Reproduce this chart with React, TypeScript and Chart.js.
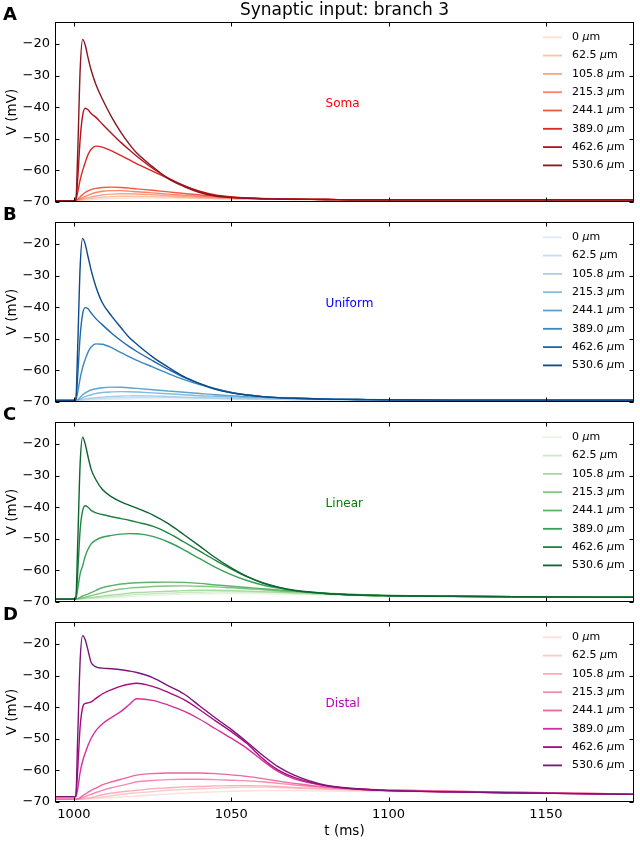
import React, { useEffect, useRef } from 'react';
import { Chart, registerables } from 'chart.js';

Chart.register(...registerables);

// ---------- data ----------
const T = [994, 1000.6, 1001.2, 1002, 1002.8, 1003.6, 1004.5, 1005.5, 1007, 1009, 1012, 1015, 1017.5, 1020, 1025, 1030, 1035, 1040, 1045, 1050, 1055, 1060, 1065, 1070, 1080, 1090, 1100, 1120, 1140, 1178];

const DISTANCES = ['0', '62.5', '105.8', '215.3', '244.1', '389.0', '462.6', '530.6'];
const X_TICKS = [1000, 1050, 1100, 1150];
const Y_TICKS = [-70, -60, -50, -40, -30, -20];
const PANEL_LETTERS = ['A', 'B', 'C', 'D'];
const PANEL_NAMES = ['Soma', 'Uniform', 'Linear', 'Distal'];
const TITLE = 'Synaptic input: branch 3';

const SOMA = [
  [-69.6, -69.6, -69.6, -69.6, -69.55, -69.5, -69.4, -69.3, -69.2, -69.05, -68.9, -68.8, -68.75, -68.72, -68.7, -68.75, -68.8, -68.9, -68.95, -69.0, -69.05, -69.1, -69.15, -69.2, -69.25, -69.3, -69.3, -69.3, -69.3, -69.3],
  [-69.6, -69.6, -69.55, -69.45, -69.3, -69.15, -69.0, -68.85, -68.7, -68.5, -68.3, -68.2, -68.18, -68.2, -68.3, -68.45, -68.6, -68.75, -68.9, -69.0, -69.05, -69.1, -69.15, -69.2, -69.25, -69.3, -69.3, -69.3, -69.3, -69.3],
  [-69.6, -69.6, -69.5, -69.3, -69.05, -68.85, -68.6, -68.4, -68.1, -67.8, -67.5, -67.4, -67.4, -67.45, -67.7, -68.0, -68.3, -68.5, -68.7, -68.85, -69.0, -69.05, -69.1, -69.15, -69.2, -69.3, -69.3, -69.3, -69.3, -69.3],
  [-69.6, -69.6, -69.4, -69.0, -68.6, -68.2, -67.8, -67.4, -67.0, -66.6, -66.4, -66.4, -66.55, -66.75, -67.1, -67.5, -67.9, -68.2, -68.5, -68.7, -68.85, -69.0, -69.1, -69.15, -69.2, -69.3, -69.3, -69.3, -69.3, -69.3],
  [-69.6, -69.6, -69.2, -68.4, -67.6, -67.0, -66.5, -66.1, -65.7, -65.4, -65.3, -65.4, -65.6, -65.85, -66.3, -66.8, -67.3, -67.8, -68.2, -68.5, -68.7, -68.9, -69.0, -69.1, -69.2, -69.3, -69.3, -69.3, -69.3, -69.3],
  [-69.6, -69.5, -67.0, -63.0, -60.0, -57.5, -55.0, -53.3, -52.3, -52.6, -53.8, -55.3, -56.6, -57.9, -60.2, -62.6, -64.8, -66.6, -67.8, -68.4, -68.75, -68.95, -69.05, -69.15, -69.2, -69.3, -69.3, -69.3, -69.3, -69.3],
  [-69.6, -69.5, -63.0, -50.0, -42.5, -40.3, -40.8, -42.0, -43.2, -45.3, -48.3, -51.2, -53.4, -55.5, -59.3, -62.4, -64.8, -66.7, -67.9, -68.45, -68.75, -68.95, -69.05, -69.15, -69.2, -69.3, -69.3, -69.3, -69.3, -69.3],
  [-69.6, -69.5, -55.0, -28.0, -18.5, -20.3, -24.3, -28.3, -32.8, -37.3, -43.1, -48.0, -51.5, -54.5, -58.8, -62.6, -65.1, -67.0, -68.1, -68.6, -68.85, -69.0, -69.1, -69.15, -69.2, -69.3, -69.3, -69.3, -69.3, -69.3],
];

const UNIFORM = [
  [-69.5, -69.5, -69.5, -69.5, -69.5, -69.45, -69.4, -69.35, -69.3, -69.25, -69.15, -69.1, -69.05, -69.0, -69.0, -69.0, -69.0, -69.05, -69.1, -69.1, -69.15, -69.2, -69.2, -69.25, -69.3, -69.3, -69.35, -69.4, -69.4, -69.4],
  [-69.5, -69.5, -69.5, -69.45, -69.4, -69.3, -69.2, -69.1, -69.0, -68.9, -68.75, -68.65, -68.6, -68.55, -68.5, -68.55, -68.65, -68.75, -68.85, -68.95, -69.0, -69.1, -69.15, -69.2, -69.25, -69.3, -69.35, -69.4, -69.4, -69.4],
  [-69.5, -69.5, -69.45, -69.35, -69.2, -69.05, -68.9, -68.8, -68.65, -68.45, -68.25, -68.1, -68.05, -68.0, -68.05, -68.25, -68.45, -68.6, -68.75, -68.9, -69.0, -69.1, -69.15, -69.2, -69.25, -69.3, -69.35, -69.4, -69.4, -69.4],
  [-69.5, -69.5, -69.4, -69.1, -68.7, -68.3, -68.0, -67.7, -67.3, -67.0, -66.8, -66.7, -66.75, -66.85, -67.1, -67.4, -67.7, -68.0, -68.2, -68.4, -68.6, -68.7, -68.85, -68.95, -69.15, -69.25, -69.3, -69.4, -69.4, -69.4],
  [-69.5, -69.5, -69.3, -68.5, -67.7, -67.1, -66.6, -66.2, -65.8, -65.5, -65.3, -65.35, -65.5, -65.7, -66.1, -66.5, -66.9, -67.3, -67.7, -68.0, -68.3, -68.5, -68.7, -68.8, -69.05, -69.2, -69.3, -69.4, -69.4, -69.4],
  [-69.5, -69.4, -67.0, -62.5, -59.0, -56.5, -54.2, -52.6, -51.6, -51.7, -52.8, -54.4, -55.6, -56.8, -58.9, -61.0, -62.9, -64.5, -65.9, -67.0, -67.8, -68.3, -68.6, -68.8, -69.1, -69.2, -69.3, -69.4, -69.4, -69.4],
  [-69.5, -69.4, -62.0, -49.0, -42.0, -40.1, -40.5, -41.8, -43.6, -45.5, -48.2, -50.6, -52.4, -54.0, -56.9, -59.7, -62.2, -64.2, -65.8, -67.0, -67.8, -68.3, -68.6, -68.8, -69.1, -69.2, -69.3, -69.4, -69.4, -69.4],
  [-69.5, -69.4, -53.0, -27.0, -18.2, -20.0, -24.0, -28.3, -33.5, -38.5, -42.8, -46.5, -49.5, -51.7, -55.7, -59.0, -62.0, -64.2, -66.0, -67.1, -67.8, -68.3, -68.6, -68.8, -69.1, -69.2, -69.3, -69.4, -69.4, -69.4],
];

const LINEAR = [
  [-69.1, -69.1, -69.1, -69.1, -69.1, -69.1, -69.05, -69.0, -68.95, -68.85, -68.7, -68.5, -68.3, -68.15, -67.9, -67.7, -67.5, -67.4, -67.35, -67.3, -67.3, -67.4, -67.5, -67.6, -67.8, -68.0, -68.15, -68.3, -68.4, -68.5],
  [-69.1, -69.1, -69.1, -69.05, -69.0, -68.95, -68.9, -68.8, -68.7, -68.55, -68.3, -68.0, -67.8, -67.6, -67.4, -67.2, -67.0, -66.9, -66.8, -66.8, -66.85, -66.95, -67.1, -67.3, -67.6, -67.9, -68.1, -68.3, -68.4, -68.5],
  [-69.1, -69.1, -69.05, -69.0, -68.9, -68.8, -68.7, -68.55, -68.4, -68.15, -67.8, -67.5, -67.2, -67.0, -66.8, -66.6, -66.4, -66.3, -66.3, -66.4, -66.55, -66.7, -66.9, -67.1, -67.5, -67.8, -68.0, -68.25, -68.4, -68.5],
  [-69.1, -69.1, -69.0, -68.85, -68.65, -68.45, -68.25, -68.0, -67.6, -67.1, -66.4, -65.9, -65.6, -65.4, -65.1, -64.95, -64.9, -65.0, -65.2, -65.5, -65.8, -66.1, -66.5, -66.8, -67.3, -67.7, -67.9, -68.2, -68.35, -68.5],
  [-69.1, -69.1, -68.9, -68.5, -68.1, -67.8, -67.5, -67.0, -66.3, -65.5, -64.8, -64.3, -64.05, -63.9, -63.75, -63.7, -63.8, -64.1, -64.6, -65.0, -65.4, -65.8, -66.2, -66.6, -67.2, -67.6, -67.9, -68.2, -68.35, -68.5],
  [-69.1, -69.0, -66.0, -61.0, -58.5, -55.5, -53.3, -51.6, -50.4, -49.5, -48.9, -48.5, -48.35, -48.4, -49.2, -51.0, -53.5, -56.3, -59.0, -61.3, -63.2, -64.6, -65.6, -66.4, -67.3, -67.8, -68.0, -68.2, -68.35, -68.5],
  [-69.1, -69.0, -61.0, -47.0, -41.0, -39.5, -40.0, -41.0, -41.8, -42.3, -43.0, -43.6, -44.1, -44.7, -46.0, -48.2, -51.0, -53.9, -56.8, -59.5, -62.0, -64.0, -65.4, -66.4, -67.3, -67.8, -68.0, -68.2, -68.35, -68.5],
  [-69.1, -69.0, -52.0, -26.0, -17.8, -20.0, -24.0, -28.0, -31.3, -34.3, -36.7, -38.3, -39.3, -40.3, -42.4, -45.2, -48.7, -52.3, -56.0, -59.2, -61.9, -63.9, -65.3, -66.3, -67.3, -67.8, -68.0, -68.2, -68.35, -68.5],
];

const DISTAL = [
  [-69.1, -69.1, -69.1, -69.1, -69.1, -69.08, -69.05, -69.0, -68.9, -68.8, -68.6, -68.4, -68.25, -68.1, -67.8, -67.5, -67.2, -67.0, -66.8, -66.6, -66.5, -66.4, -66.4, -66.4, -66.5, -66.6, -66.7, -66.9, -67.1, -67.5],
  [-69.1, -69.1, -69.1, -69.05, -69.0, -68.95, -68.9, -68.8, -68.7, -68.4, -68.0, -67.6, -67.3, -67.1, -66.7, -66.3, -66.0, -65.8, -65.6, -65.4, -65.3, -65.3, -65.4, -65.6, -65.9, -66.2, -66.4, -66.7, -67.0, -67.5],
  [-69.1, -69.1, -69.1, -69.1, -69.0, -68.9, -68.75, -68.6, -68.2, -67.7, -67.2, -66.8, -66.5, -66.3, -65.8, -65.5, -65.2, -65.1, -64.9, -64.8, -64.8, -64.9, -65.1, -65.4, -65.8, -66.2, -66.4, -66.7, -67.0, -67.5],
  [-69.1, -69.1, -69.05, -68.9, -68.6, -68.3, -67.9, -67.6, -67.0, -66.3, -65.5, -64.8, -64.2, -63.6, -63.2, -62.9, -62.8, -62.8, -62.9, -63.1, -63.3, -63.6, -64.1, -64.6, -65.4, -65.9, -66.2, -66.6, -66.9, -67.5],
  [-69.1, -69.1, -69.0, -68.6, -68.0, -67.5, -66.9, -66.3, -65.6, -64.6, -63.6, -62.8, -62.1, -61.5, -61.0, -60.8, -60.8, -60.8, -61.0, -61.4, -61.9, -62.6, -63.4, -64.1, -65.3, -65.9, -66.2, -66.6, -66.9, -67.5],
  [-68.3, -68.3, -66.0, -60.5, -57.0, -54.5, -52.0, -49.8, -47.4, -45.3, -43.2, -41.3, -39.2, -37.3, -37.8, -39.3, -41.2, -43.8, -46.8, -49.8, -53.0, -56.9, -60.4, -62.7, -64.9, -65.9, -66.4, -66.8, -67.1, -67.6],
  [-68.3, -68.3, -60.0, -46.0, -40.0, -38.8, -38.6, -38.3, -37.2, -35.8, -34.4, -33.3, -32.7, -32.4, -33.4, -35.3, -37.6, -40.8, -44.3, -47.7, -51.5, -56.2, -59.9, -62.2, -64.8, -65.9, -66.4, -66.8, -67.1, -67.6],
  [-68.3, -68.3, -50.0, -25.0, -17.3, -18.6, -22.0, -25.8, -27.2, -27.6, -27.8, -28.1, -28.5, -29.0, -30.6, -33.2, -35.8, -39.6, -43.4, -47.0, -51.0, -55.2, -58.9, -61.5, -64.7, -65.8, -66.4, -66.8, -67.1, -67.6],
];

const PANEL_DATA = [SOMA, UNIFORM, LINEAR, DISTAL];

const REDS = ['#fde0d2', '#fcc1a8', '#fca486', '#fb8668', '#f3573f', '#d92723', '#b5121b', '#8a1622'];
const BLUES = ['#deebf7', '#c9ddf0', '#a8cfe5', '#84bcdb', '#5ea3d0', '#3d87c0', '#1f67ab', '#0d4a8a'];
const GREENS = ['#e5f5e0', '#cbeac4', '#a6dba0', '#80c880', '#5bb468', '#37a055', '#1c843f', '#0d6431'];
const RDPU = ['#fde0dd', '#fcc8c3', '#fbadb9', '#f98aae', '#ef65a1', '#d4309a', '#aa0a80', '#7a1677'];
const PANEL_COLORS = [REDS, BLUES, GREENS, RDPU];
const LABEL_COLORS = ['#ff0000', '#0000ff', '#008000', '#bf00bf'];

// ---------- layout constants ----------
const FONT = "'DejaVu Sans', 'Liberation Sans', sans-serif";
const PAD_TOP = 22;
const PLOT_H = 180;
const LABEL_AT = { x: 1080, y: -40 };

const minus = (v: number) => (v < 0 ? '\u2212' + Math.abs(v) : String(v));

const framePlugin = {
  id: 'frame',
  afterDraw(chart: any, _args: any, opts: any) {
    const { ctx, chartArea: a, scales } = chart;
    const xs = scales.x;
    const ys = scales.y;
    ctx.save();
    // frame
    ctx.strokeStyle = '#000';
    ctx.lineWidth = 1;
    const L = Math.round(a.left) + 0.5;
    const R = Math.round(a.right) - 0.5;
    const Tp = Math.round(a.top) + 0.5;
    const B = Math.round(a.bottom) - 0.5;
    ctx.strokeRect(L, Tp, R - L, B - Tp);
    // inward ticks on all sides
    const tl = 4;
    ctx.beginPath();
    X_TICKS.forEach((v) => {
      const px = Math.round(xs.getPixelForValue(v)) + 0.5;
      ctx.moveTo(px, B); ctx.lineTo(px, B - tl);
      ctx.moveTo(px, Tp); ctx.lineTo(px, Tp + tl);
    });
    Y_TICKS.forEach((v) => {
      const py = Math.round(ys.getPixelForValue(v)) + 0.5;
      ctx.moveTo(L, py); ctx.lineTo(L + tl, py);
      ctx.moveTo(R, py); ctx.lineTo(R - tl, py);
    });
    ctx.stroke();

    // panel label inside the plot
    ctx.fillStyle = opts.labelColor;
    ctx.font = `12px ${FONT}`;
    ctx.textAlign = 'left';
    ctx.textBaseline = 'alphabetic';
    ctx.fillText(opts.label, xs.getPixelForValue(LABEL_AT.x), ys.getPixelForValue(LABEL_AT.y));

    // panel letter
    ctx.fillStyle = '#000';
    ctx.font = `bold 18px ${FONT}`;
    ctx.fillText(opts.letter, 3, a.top - 2);

    // figure title
    if (opts.title) {
      ctx.font = `17px ${FONT}`;
      ctx.textAlign = 'center';
      ctx.textBaseline = 'middle';
      ctx.fillText(opts.title, (a.left + a.right) / 2, 11);
    }

    // legend
    const ds = chart.data.datasets;
    const lx0 = 543;
    const lx1 = 562;
    const tx = 572;
    ctx.textBaseline = 'middle';
    ctx.textAlign = 'left';
    for (let i = 0; i < DISTANCES.length; i++) {
      const yy = a.top + 15.3 + i * 18.3;
      ctx.strokeStyle = ds[i].borderColor;
      ctx.lineWidth = 1.8;
      ctx.beginPath();
      ctx.moveTo(lx0, yy);
      ctx.lineTo(lx1, yy);
      ctx.stroke();
      ctx.fillStyle = '#000';
      let x = tx;
      const num = DISTANCES[i] + ' ';
      ctx.font = `11px ${FONT}`;
      ctx.fillText(num, x, yy);
      x += ctx.measureText(num).width;
      ctx.font = `italic 11px ${FONT}`;
      ctx.fillText('\u03bc', x, yy);
      x += ctx.measureText('\u03bc').width;
      ctx.font = `11px ${FONT}`;
      ctx.fillText('m', x, yy);
    }
    ctx.restore();
  },
};

function Panel({ idx }: { idx: number }) {
  const ref = useRef<HTMLCanvasElement | null>(null);
  const isLast = idx === 3;
  const height = PAD_TOP + PLOT_H + (isLast ? 40 : 20);

  useEffect(() => {
    if (!ref.current) return;
    const series = PANEL_DATA[idx];
    const colors = PANEL_COLORS[idx];
    const datasets = series.map((vals, i) => ({
      label: DISTANCES[i] + ' \u03bcm',
      data: T.map((t, j) => ({ x: t, y: vals[j] })),
      borderColor: colors[i],
      borderWidth: 1.4,
      pointRadius: 0,
      fill: false,
      cubicInterpolationMode: 'monotone' as const,
      order: series.length - 1 - i,
    }));
    const tickFont = { family: FONT, size: 13 };
    const chart = new Chart(ref.current, {
      type: 'line',
      data: { datasets },
      options: {
        animation: false,
        responsive: false,
        maintainAspectRatio: false,
        events: [],
        layout: { padding: { left: 0, right: 6, top: PAD_TOP, bottom: isLast ? 0 : 20 } },
        plugins: {
          legend: { display: false },
          tooltip: { enabled: false },
          frame: {
            label: PANEL_NAMES[idx],
            labelColor: LABEL_COLORS[idx],
            letter: PANEL_LETTERS[idx],
            title: idx === 0 ? TITLE : '',
          },
        } as any,
        scales: {
          x: {
            type: 'linear',
            min: 994,
            max: 1178,
            afterBuildTicks: (s: any) => { s.ticks = X_TICKS.map((v) => ({ value: v })); },
            afterFit: (s: any) => { s.height = isLast ? 40 : 0; },
            grid: { display: false, drawTicks: false },
            border: { display: false },
            ticks: { display: isLast, font: tickFont, color: '#000', padding: 5, maxRotation: 0, autoSkip: false, callback: (v: any) => String(v) },
            title: { display: isLast, text: 't (ms)', font: { family: FONT, size: 13.5 }, color: '#000', padding: { top: 0, bottom: 2 } },
          },
          y: {
            type: 'linear',
            min: -70,
            max: -13,
            afterBuildTicks: (s: any) => { s.ticks = Y_TICKS.map((v) => ({ value: v })); },
            afterFit: (s: any) => { s.width = 55; },
            grid: { display: false, drawTicks: false },
            border: { display: false },
            ticks: { font: tickFont, color: '#000', padding: 5, callback: (v: any) => minus(Number(v)) },
            title: { display: true, text: 'V (mV)', font: { family: FONT, size: 13.5 }, color: '#000', padding: { top: 4, bottom: 0 } },
          },
        },
      },
      plugins: [framePlugin],
    } as any);
    return () => chart.destroy();
  }, [idx]);

  return (
    <canvas
      ref={ref}
      width={640}
      height={height}
      style={{ position: 'absolute', left: 0, top: idx * 200, width: 640, height }}
    />
  );
}

export default function App() {
  return (
    <div style={{ position: 'absolute', left: 0, top: 0, width: 640, height: 842, background: '#fff', overflow: 'hidden' }}>
      {[0, 1, 2, 3].map((i) => (
        <Panel key={i} idx={i} />
      ))}
    </div>
  );
}
